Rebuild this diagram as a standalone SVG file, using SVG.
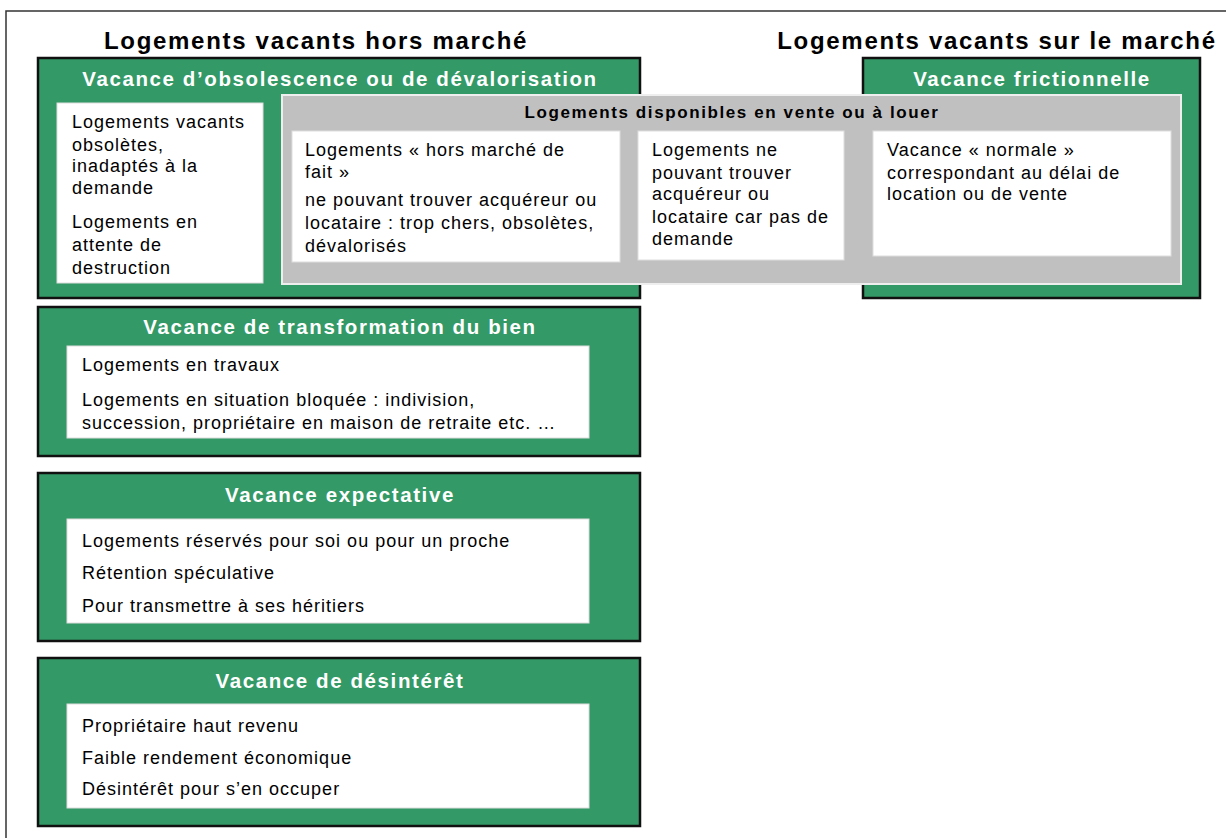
<svg xmlns="http://www.w3.org/2000/svg" width="1226" height="838" viewBox="0 0 1226 838">
<style>
.frame{fill:none;stroke:#333;stroke-width:1.5}
.green{fill:#339966;stroke:#111;stroke-width:2.5}
.grey{fill:#c0c0c0;stroke:#eeeeee;stroke-width:2}
.white{fill:#fff;stroke:#ddd;stroke-width:1}
.title{font-family:"Liberation Sans",Arial,sans-serif;font-weight:bold;font-size:24px;fill:#000;letter-spacing:1.7px;text-anchor:middle}
.head{font-family:"Liberation Sans",Arial,sans-serif;font-weight:bold;font-size:20.5px;fill:#fff;text-anchor:middle;letter-spacing:1.6px}
.sub{font-family:"Liberation Sans",Arial,sans-serif;font-weight:bold;font-size:17px;fill:#000;text-anchor:middle;letter-spacing:1.6px}
.txt{font-family:"Liberation Sans",Arial,sans-serif;font-size:18px;fill:#000;letter-spacing:1px}
</style>
<rect x="6" y="11" width="1240" height="840" class="frame"/>
<g id="titles">
<text x="316" y="49" class="title">Logements vacants hors marché</text>
<text x="997" y="49" class="title">Logements vacants sur le marché</text>
</g>
<g id="obsolescence">
<rect x="38" y="58" width="602" height="240" class="green"/>
<text x="340" y="86" class="head">Vacance d’obsolescence ou de dévalorisation</text>
<rect x="57" y="103" width="206" height="180" class="white"/>
<text class="txt"><tspan x="72" y="128">Logements vacants</tspan><tspan x="72" y="151">obsolètes,</tspan><tspan x="72" y="172">inadaptés à la</tspan><tspan x="72" y="194">demande</tspan><tspan x="72" y="228">Logements en</tspan><tspan x="72" y="251">attente de</tspan><tspan x="72" y="274">destruction</tspan></text>
</g>
<g id="frictionnelle">
<rect x="863" y="58" width="337" height="240" class="green"/>
<text x="1032" y="86" class="head">Vacance frictionnelle</text>
</g>
<g id="disponibles">
<rect x="282" y="95" width="899" height="189" class="grey"/>
<text x="732" y="118" class="sub">Logements disponibles en vente ou à louer</text>
<rect x="292" y="131" width="328" height="131" class="white"/>
<text class="txt"><tspan x="305" y="156">Logements « hors marché de</tspan><tspan x="305" y="178">fait »</tspan><tspan x="305" y="206">ne pouvant trouver acquéreur ou</tspan><tspan x="305" y="229">locataire : trop chers, obsolètes,</tspan><tspan x="305" y="252">dévalorisés</tspan></text>
<rect x="638" y="131" width="206" height="129" class="white"/>
<text class="txt"><tspan x="652" y="156">Logements ne</tspan><tspan x="652" y="179">pouvant trouver</tspan><tspan x="652" y="200">acquéreur ou</tspan><tspan x="652" y="223">locataire car pas de</tspan><tspan x="652" y="245">demande</tspan></text>
<rect x="873" y="131" width="298" height="125" class="white"/>
<text class="txt"><tspan x="887" y="156">Vacance « normale »</tspan><tspan x="887" y="179">correspondant au délai de</tspan><tspan x="887" y="200">location ou de vente</tspan></text>
</g>
<g id="transformation">
<rect x="38" y="307" width="602" height="149" class="green"/>
<text x="340" y="334" class="head">Vacance de transformation du bien</text>
<rect x="67" y="346" width="522" height="92" class="white"/>
<text class="txt"><tspan x="82" y="371">Logements en travaux</tspan><tspan x="82" y="406">Logements en situation bloquée : indivision,</tspan><tspan x="82" y="429">succession, propriétaire en maison de retraite etc. …</tspan></text>
</g>
<g id="expectative">
<rect x="38" y="473" width="602" height="168" class="green"/>
<text x="340" y="502" class="head">Vacance expectative</text>
<rect x="67" y="519" width="522" height="104" class="white"/>
<text class="txt"><tspan x="82" y="547">Logements réservés pour soi ou pour un proche</tspan><tspan x="82" y="579">Rétention spéculative</tspan><tspan x="82" y="612">Pour transmettre à ses héritiers</tspan></text>
</g>
<g id="desinteret">
<rect x="38" y="658" width="602" height="168" class="green"/>
<text x="340" y="688" class="head">Vacance de désintérêt</text>
<rect x="67" y="704" width="522" height="104" class="white"/>
<text class="txt"><tspan x="82" y="732">Propriétaire haut revenu</tspan><tspan x="82" y="764">Faible rendement économique</tspan><tspan x="82" y="795">Désintérêt pour s’en occuper</tspan></text>
</g>
<g id="connectors"></g>
</svg>
